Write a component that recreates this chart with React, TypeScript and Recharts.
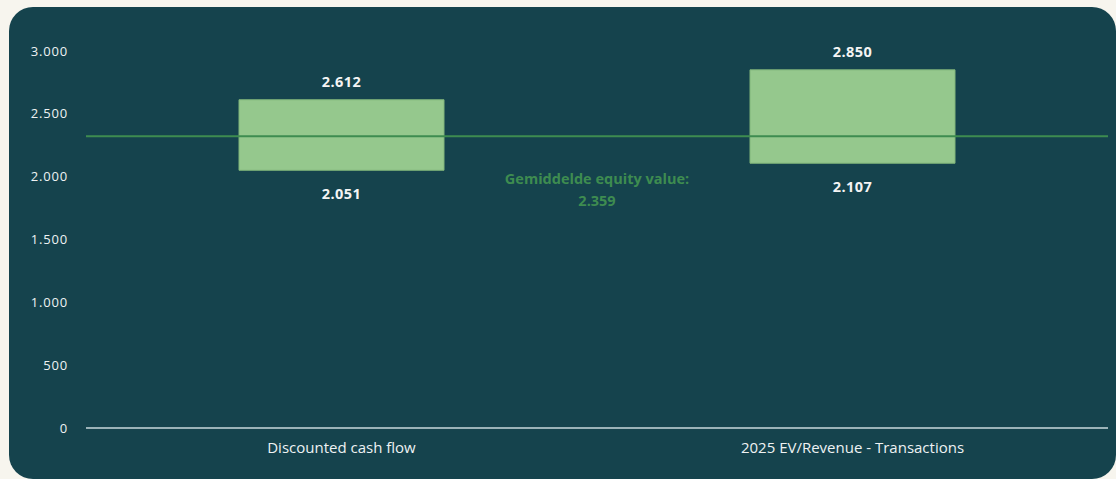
// Waarderingsbandbreedte — floating bars met gemiddelde equity value
import { BarChart, Bar, XAxis, YAxis, ReferenceLine } from 'recharts'

// ─── Data ────────────────────────────────────────────────────────────────────

const categories = ['Discounted cash flow', '2025 EV/Revenue - Transactions']
const lowValues  = [2051, 2107]
const highValues = [2612, 2850]
const yTicks     = [0, 500, 1000, 1500, 2000, 2500, 3000]

const meanLineValue = 2322   // positie van de lijn zoals getekend
const meanLabel     = 2359   // waarde in het label

const fmt = (v: number) => String(v).replace(/\B(?=(\d{3})+(?!\d))/g, '.')

const data = categories.map((name, i) => ({
  name,
  range: [lowValues[i], highValues[i]],
}))

const FONT = '"Open Sans", Lato, sans-serif'

// ─── Labels ──────────────────────────────────────────────────────────────────

function RangeLabel(props: any) {
  const { x, y, width, height, index } = props
  const cx = x + width / 2
  return (
    <g fill="#F4F4F4" fontSize={14.5} fontWeight={700} fontFamily={FONT} letterSpacing={0.4}>
      <text x={cx} y={y - 18} textAnchor="middle" dominantBaseline="central">
        {fmt(highValues[index])}
      </text>
      <text x={cx} y={y + height + 23} textAnchor="middle" dominantBaseline="central">
        {fmt(lowValues[index])}
      </text>
    </g>
  )
}

function MeanLabel(props: any) {
  const { viewBox } = props
  const cx = viewBox.x + viewBox.width / 2
  return (
    <g fill="#3E8C50" fontSize={14.5} fontWeight={700} fontFamily={FONT}>
      <text x={cx} y={viewBox.y + 42} textAnchor="middle" dominantBaseline="central">
        Gemiddelde equity value:
      </text>
      <text x={cx} y={viewBox.y + 64} textAnchor="middle" dominantBaseline="central">
        {fmt(meanLabel)}
      </text>
    </g>
  )
}

// ─── App ─────────────────────────────────────────────────────────────────────

export default function App() {
  return (
    <div style={{ position: 'fixed', left: 0, top: 0, width: 1116, height: 479, background: '#F7F5EE', overflow: 'hidden' }}>
      <div style={{ position: 'absolute', left: 9, top: 7, width: 1107, height: 472, background: '#15434D', borderRadius: 24 }}>
        <BarChart width={1107} height={472} data={data}
          margin={{ top: 44, right: 8, left: 17, bottom: 21 }}>
          <XAxis
            dataKey="name"
            axisLine={{ stroke: '#C9D9DD', strokeWidth: 1.5 }}
            tickLine={false}
            tickSize={0}
            tickMargin={14}
            tick={{ fill: '#EEF2F3', fontSize: 15, fontFamily: FONT }}
          />
          <YAxis
            type="number"
            domain={[0, 3000]}
            ticks={yTicks}
            width={60}
            axisLine={false}
            tickLine={false}
            tickSize={0}
            tickMargin={18}
            tickFormatter={fmt}
            tick={{ fill: '#EEF2F3', fontSize: 13, fontFamily: FONT, letterSpacing: 0.8 }}
          />
          <Bar dataKey="range" fill="#95C88D" stroke="#80B57A" strokeWidth={1}
            barSize={205} isAnimationActive={false} label={RangeLabel} />
          <ReferenceLine y={meanLineValue} stroke="#3E8C50" strokeWidth={2}
            label={MeanLabel} ifOverflow="extendDomain" />
        </BarChart>
      </div>
    </div>
  )
}
